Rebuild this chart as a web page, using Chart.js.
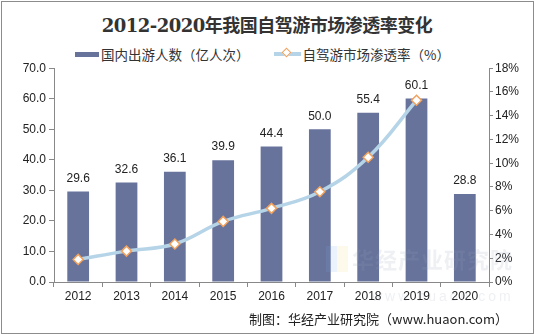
<!DOCTYPE html>
<html>
<head>
<meta charset="utf-8">
<script src="https://cdn.jsdelivr.net/npm/chart.js@4"></script>
<style>
  body { margin: 0; background: #fff; }
  #wrap { position: relative; width: 534px; height: 334px; overflow: hidden; font-family: "Liberation Sans", Arial, "Noto Sans CJK SC", sans-serif; }
  #frame { position: absolute; left: 1px; top: 1px; width: 531px; height: 331px; border: 1px solid #8c8c8c; pointer-events: none; }
  #title { position: absolute; left: 0; width: 534px; top: 11px; text-align: center; font: bold 18px "DejaVu Serif", "Liberation Serif", "Noto Sans CJK SC", serif; color: #333; letter-spacing: -0.5px; }
  #legend { position: absolute; top: 42px; left: 75px; font-size: 13.5px; color: #333; font-family: "Noto Sans CJK SC", sans-serif; white-space: nowrap; }
  #legend span { display: inline-block; vertical-align: middle; }
  .sw-bar { width: 24px; height: 5px; background: #67739b; margin-right: 2px; }
  .sw-line { position: relative; width: 27px; height: 4px; background: #b5d4e7; margin: 0 2px 0 24px; }
  .sw-line i { position: absolute; left: 9px; top: -3px; width: 7px; height: 7px; background: #fff; border: 1.5px solid #f2a15c; box-sizing: border-box; transform: rotate(45deg); }
  #chart { position: absolute; left: 0; top: 58px; }
  #mark { position: absolute; left: 352px; top: 242px; font: bold 22px "Noto Sans CJK SC", sans-serif; color: rgba(150,160,180,0.16); letter-spacing: 1px; }
  #mark2 { position: absolute; left: 372px; top: 288px; font: 14px "Liberation Sans", sans-serif; color: rgba(150,160,180,0.16); letter-spacing: 3px; }
  #logo { position: absolute; left: 326px; top: 246px; width: 22px; height: 26px; background: linear-gradient(90deg, rgba(120,170,230,0.15) 50%, rgba(240,220,120,0.15) 50%); }
  #footer { position: absolute; right: 26px; top: 309px; font-size: 13px; color: #222; font-family: "Noto Sans CJK SC", sans-serif; }
</style>
</head>
<body>
<div id="wrap">
  <div id="title">2012-2020年我国自驾游市场渗透率变化</div>
  <div id="legend">
    <span class="sw-bar"></span><span>国内出游人数（亿人次）</span><span class="sw-line"><i></i></span><span>自驾游市场渗透率（%）</span>
  </div>
  <canvas id="chart" width="534" height="250"></canvas>
  <div id="logo"></div>
  <div id="mark">华经产业研究院</div>
  <div id="mark2">www.huaon.com</div>
  <div id="footer">制图：华经产业研究院（www.huaon.com）</div>
  <div id="frame"></div>
</div>
<script>
// --- Data ---
const years = ["2012", "2013", "2014", "2015", "2016", "2017", "2018", "2019", "2020"];
const domesticTrips = [29.6, 32.6, 36.1, 39.9, 44.4, 50.0, 55.4, 60.1, 28.8];   // 亿人次
const selfDriveRate = [1.9, 2.6, 3.2, 5.1, 6.2, 7.6, 10.5, 15.3, null];         // %

// --- Value labels above bars ---
const barLabels = {
  id: "barLabels",
  afterDatasetsDraw(chart) {
    const { ctx } = chart;
    const meta = chart.getDatasetMeta(0);
    ctx.save();
    ctx.font = "12px 'Liberation Sans', Arial, sans-serif";
    ctx.fillStyle = "#222";
    ctx.textAlign = "center";
    ctx.textBaseline = "middle";
    meta.data.forEach((bar, i) => {
      ctx.fillText(domesticTrips[i].toFixed(1), bar.x, bar.y - 13);
    });
    ctx.restore();
  }
};

const tickFont = { family: "'Liberation Sans', Arial, sans-serif", size: 12 };

new Chart(document.getElementById("chart"), {
  data: {
    labels: years,
    datasets: [
      {
        type: "bar",
        label: "国内出游人数（亿人次）",
        data: domesticTrips,
        backgroundColor: "#67739b",
        barPercentage: 0.45,
        categoryPercentage: 1,
        yAxisID: "y",
        order: 1
      },
      {
        type: "line",
        label: "自驾游市场渗透率（%）",
        data: selfDriveRate,
        borderColor: "#b5d4e7",
        borderWidth: 3.5,
        tension: 0.4,
        pointStyle: "rectRot",
        pointRadius: 5,
        pointBorderWidth: 1.5,
        pointBackgroundColor: "#fff",
        pointBorderColor: "#f2a15c",
        yAxisID: "y1",
        order: 0
      }
    ]
  },
  options: {
    responsive: false,
    animation: false,
    layout: { padding: { top: 9, left: 0, right: 0, bottom: 0 } },
    plugins: {
      legend: { display: false },
      tooltip: { enabled: false }
    },
    scales: {
      x: {
        offset: true,
        grid: { display: true, offset: true, drawOnChartArea: false, drawTicks: true, tickLength: 5, color: "#888" },
        border: { color: "#888" },
        ticks: { color: "#222", font: tickFont, padding: 2 },
        afterFit: s => { s.height = 26; }
      },
      y: {
        position: "left",
        min: 0, max: 70,
        ticks: { stepSize: 10, color: "#222", font: tickFont, padding: 3, callback: v => v.toFixed(1) },
        grid: { display: true, drawOnChartArea: false, tickLength: 5, color: "#888" },
        border: { color: "#888" },
        afterFit: s => { s.width = 54; }
      },
      y1: {
        position: "right",
        min: 0, max: 18,
        ticks: { stepSize: 2, color: "#222", font: tickFont, padding: 2, callback: v => v + "%" },
        grid: { display: true, drawOnChartArea: false, tickLength: 4, color: "#888" },
        border: { color: "#888" },
        afterFit: s => { s.width = 45; }
      }
    }
  },
  plugins: [barLabels]
});
</script>
</body>
</html>
